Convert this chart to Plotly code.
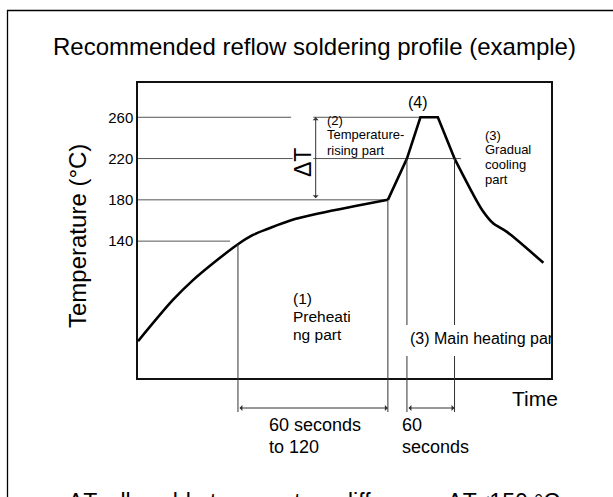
import plotly.graph_objects as go

# ---------------- data ----------------
time_s = [0, 44, 69, 97, 126, 145, 164, 192, 229, 274, 315,
          339, 356, 378, 399, 422, 434, 448, 465, 511]
temp_c = [43, 83, 102, 120, 137, 146, 152, 160, 167, 174, 180,
          220, 260, 260, 220, 186, 170, 157, 149, 119]

tick_vals = [140, 180, 220, 260]
tick_text = ["140", "180", "220", "260"]

# reference (guide) lines: level, start time, end time
ref_level = [260, 260, 220, 220, 180, 140]
ref_start = [0, 221, 0, 221, 0, 0]
ref_end = [193, 356, 195, 407, 315, 116]

# key time marks (indices into the profile)
preheat_start_i, preheat_end_i = 4, 10
main_start_i, main_end_i = 11, 14

# ---------------- layout geometry ----------------
W, H = 613, 497
L, R, T, B = 138, 551, 83, 378
X_RANGE = [0, 520.6]
Y_RANGE = [7.4, 293.2]
FONT = "Arial, Liberation Sans, sans-serif"


def xp(px):
    return (px - L) / (R - L)


def yp(py):
    return (B - py) / (B - T)


def xd(px):
    return X_RANGE[0] + (px - L) / (R - L) * (X_RANGE[1] - X_RANGE[0])


def yd(py):
    return Y_RANGE[1] - (py - T) / (B - T) * (Y_RANGE[1] - Y_RANGE[0])


fig = go.Figure()

curve_style = dict(color="black", width=2.6)
# preheating part (smooth)
fig.add_trace(go.Scatter(x=time_s[:preheat_end_i + 1], y=temp_c[:preheat_end_i + 1],
                         mode="lines", line=dict(shape="spline", smoothing=0.9, **curve_style),
                         hoverinfo="skip", showlegend=False))
# rise / peak part (straight segments)
fig.add_trace(go.Scatter(x=time_s[preheat_end_i:main_end_i + 1], y=temp_c[preheat_end_i:main_end_i + 1],
                         mode="lines", line=dict(shape="linear", **curve_style),
                         hoverinfo="skip", showlegend=False))
# gradual cooling part (smooth)
fig.add_trace(go.Scatter(x=time_s[main_end_i:], y=temp_c[main_end_i:],
                         mode="lines", line=dict(shape="spline", smoothing=0.7, **curve_style),
                         hoverinfo="skip", showlegend=False))

# clipped text "(3) Main heating part"
fig.add_trace(go.Scatter(x=[xd(410)], y=[yd(340)], mode="text",
                         text=["(3) Main heating part"], textposition="middle right",
                         textfont=dict(family=FONT, size=16, color="black"),
                         cliponaxis=True, hoverinfo="skip", showlegend=False))

shapes = []
guide = dict(color="#555555", width=1)
for lv, s, e in zip(ref_level, ref_start, ref_end):
    shapes.append(dict(type="line", xref="x", yref="y", x0=s, x1=e, y0=lv, y1=lv,
                       line=guide, layer="below"))

vline = dict(color="#333333", width=1)
y_ext = yp(412)
gap_top, gap_bot = yd(325), yd(356)
for i in [preheat_start_i, preheat_end_i, main_start_i, main_end_i]:
    t, v = time_s[i], temp_c[i]
    if i in (main_start_i, main_end_i):
        shapes.append(dict(type="line", xref="x", yref="y", x0=t, x1=t, y0=v, y1=gap_top, line=vline))
        shapes.append(dict(type="line", xref="x", yref="y", x0=t, x1=t, y0=gap_bot, y1=Y_RANGE[0], line=vline))
    else:
        shapes.append(dict(type="line", xref="x", yref="y", x0=t, x1=t, y0=v, y1=Y_RANGE[0], line=vline))
    shapes.append(dict(type="line", xref="x", yref="paper", x0=t, x1=t, y0=0, y1=y_ext, line=vline))

# outer frame
shapes.append(dict(type="rect", xref="paper", yref="paper", x0=xp(7.5), x1=xp(625),
                   y0=yp(520), y1=yp(10.5), line=dict(color="black", width=1.3)))

annotations = []


def txt(text, px, py, size, xanchor="center", yanchor="middle", angle=0):
    annotations.append(dict(text=text, x=xp(px), y=yp(py), xref="paper", yref="paper",
                            xanchor=xanchor, yanchor=yanchor, showarrow=False, textangle=angle,
                            font=dict(family=FONT, size=size, color="black")))


txt("Recommended reflow soldering profile (example)", 314, 47, 24)
txt("Temperature (°C)", 77, 236, 24, angle=-90)
txt("(4)", 418, 102, 16)
txt("(2)", 325, 120, 13, xanchor="left")
txt("Temperature-", 325, 134, 13, xanchor="left")
txt("rising part", 325, 150, 13, xanchor="left")
txt("(3)", 483, 135, 13, xanchor="left")
txt("Gradual", 483, 149, 13, xanchor="left")
txt("cooling", 483, 164, 13, xanchor="left")
txt("part", 483, 179, 13, xanchor="left")
txt("(1)", 291, 298, 15.5, xanchor="left")
txt("Preheati", 291, 316, 15.5, xanchor="left")
txt("ng part", 291, 334, 15.5, xanchor="left")
txt("Time", 535, 398, 21)
txt("60 seconds", 267, 425, 18, xanchor="left")
txt("to 120", 267, 447, 18, xanchor="left")
txt("60", 400, 425, 18, xanchor="left")
txt("seconds", 400, 447, 18, xanchor="left")
txt("ΔT", 303, 163, 23, angle=-90)
txt("ΔT: allowable temperature difference ΔT≤150 °C", 314, 502, 23)

# dimension arrows
arrow = dict(showarrow=True, text="", arrowhead=1, arrowsize=1, arrowwidth=1,
             arrowcolor="#333333", arrowside="end+start", standoff=0, startstandoff=0)
annotations.append(dict(x=time_s[preheat_end_i], y=yp(408), xref="x", yref="paper",
                        ax=time_s[preheat_start_i], ay=0, axref="x", ayref="pixel", **arrow))
annotations.append(dict(x=time_s[main_end_i], y=yp(408), xref="x", yref="paper",
                        ax=time_s[main_start_i], ay=0, axref="x", ayref="pixel", **arrow))
annotations.append(dict(x=xd(315.7), y=ref_level[0], xref="x", yref="y",
                        ax=xd(315.7), ay=ref_level[4], axref="x", ayref="y", **arrow))

fig.update_layout(
    width=W, height=H,
    margin=dict(l=L, r=W - R, t=T, b=H - B, autoexpand=False),
    paper_bgcolor="white", plot_bgcolor="white",
    shapes=shapes, annotations=annotations,
    xaxis=dict(range=X_RANGE, showticklabels=False, ticks="", showgrid=False, zeroline=False,
               showline=True, mirror=True, linecolor="#111111", linewidth=1.5),
    yaxis=dict(range=Y_RANGE, tickvals=tick_vals, ticktext=tick_text, ticks="",
               showgrid=False, zeroline=False, showline=True, mirror=True,
               linecolor="#111111", linewidth=1.5,
               tickfont=dict(family=FONT, size=15, color="black")),
    font=dict(family=FONT, color="black"),
)

fig.write_html("out.html", config={"displayModeBar": False},
               post_script="document.body.style.margin='0px';document.body.style.overflow='hidden';")
